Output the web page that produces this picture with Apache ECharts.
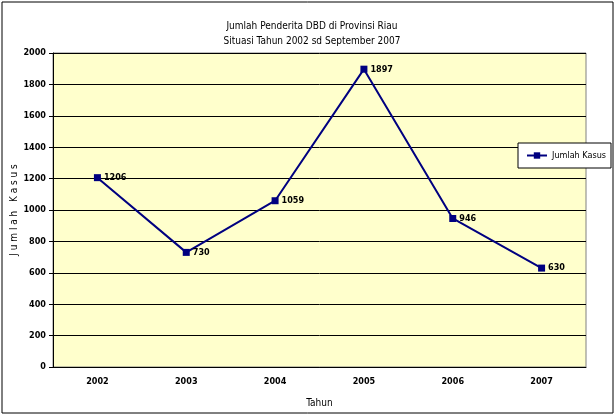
<!DOCTYPE html>
<html>
<head>
<meta charset="utf-8">
<script src="https://cdn.jsdelivr.net/npm/echarts@6/dist/echarts.min.js"></script>
<style>
  html, body { margin: 0; padding: 0; background: #fff; }
  #main { width: 616px; height: 417px; }
</style>
</head>
<body>
<div id="main"></div>
<script>
// data
var years = ["2002", "2003", "2004", "2005", "2006", "2007"];
var kasus = [1206, 730, 1059, 1897, 946, 630];
var seriesName = "Jumlah Kasus";

var font = "'Liberation Sans Narrow', 'DejaVu Sans Condensed', Arial, sans-serif";

var myChart = echarts.init(document.getElementById("main"));
myChart.setOption({
  backgroundColor: "#fff",
  animation: false,
  textStyle: { fontFamily: font },
  graphic: [
    {
      type: "rect",
      shape: { x: 2, y: 2, width: 611, height: 411 },
      style: { fill: "none", stroke: "#000", lineWidth: 1 },
      z: -1
    }
  ],
  title: {
    text: "Jumlah Penderita DBD di Provinsi Riau\nSituasi Tahun 2002 sd September 2007",
    left: 307,
    top: 14,
    textAlign: "center",
    textStyle: { fontSize: 10, fontWeight: "normal", lineHeight: 15, color: "#000", fontFamily: font }
  },
  legend: {
    data: [{ name: seriesName }],
    left: 518,
    top: 143,
    padding: [8, 5, 8, 8],
    borderColor: "#000",
    borderWidth: 1,
    backgroundColor: "#fff",
    itemWidth: 20,
    itemHeight: 8,
    itemGap: 4,
    textStyle: { fontSize: 9, color: "#000", fontFamily: font }
  },
  grid: {
    left: 53,
    right: 30,
    top: 53,
    bottom: 50,
    outerBoundsMode: "none",
    show: true,
    backgroundColor: "#FFFFCC",
    borderColor: "#808080",
    borderWidth: 1
  },
  xAxis: {
    type: "category",
    data: years,
    name: "Tahun",
    nameLocation: "middle",
    nameGap: 31,
    nameMoveOverlap: false,
    nameTextStyle: { fontSize: 10, color: "#000", fontFamily: font },
    boundaryGap: true,
    axisLine: { lineStyle: { color: "#000" } },
    axisTick: { alignWithLabel: false, length: 4, lineStyle: { color: "#000" } },
    axisLabel: { fontSize: 9, fontWeight: "bold", color: "#000", margin: 10 }
  },
  yAxis: {
    type: "value",
    min: 0,
    max: 2000,
    interval: 200,
    name: "J u m l a h   K a s u s",
    nameLocation: "middle",
    nameGap: 34,
    nameMoveOverlap: false,
    nameTextStyle: { fontSize: 10, color: "#000", fontFamily: font },
    axisLine: { show: true, lineStyle: { color: "#000" } },
    axisTick: { show: true, length: 4, lineStyle: { color: "#000" } },
    axisLabel: {
      fontSize: 9,
      fontWeight: "bold",
      color: "#000",
      margin: 7,
      formatter: function (v) { return String(v); }
    },
    splitLine: { lineStyle: { color: "#000", width: 1 } }
  },
  series: [
    {
      name: seriesName,
      type: "line",
      data: kasus,
      symbol: "rect",
      symbolSize: 7,
      color: "#000080",
      lineStyle: { color: "#000080", width: 2 },
      itemStyle: { color: "#000080" },
      label: {
        show: true,
        position: "right",
        distance: 3,
        fontSize: 9,
        fontWeight: "bold",
        color: "#000",
        fontFamily: font
      }
    }
  ]
});
</script>
</body>
</html>
